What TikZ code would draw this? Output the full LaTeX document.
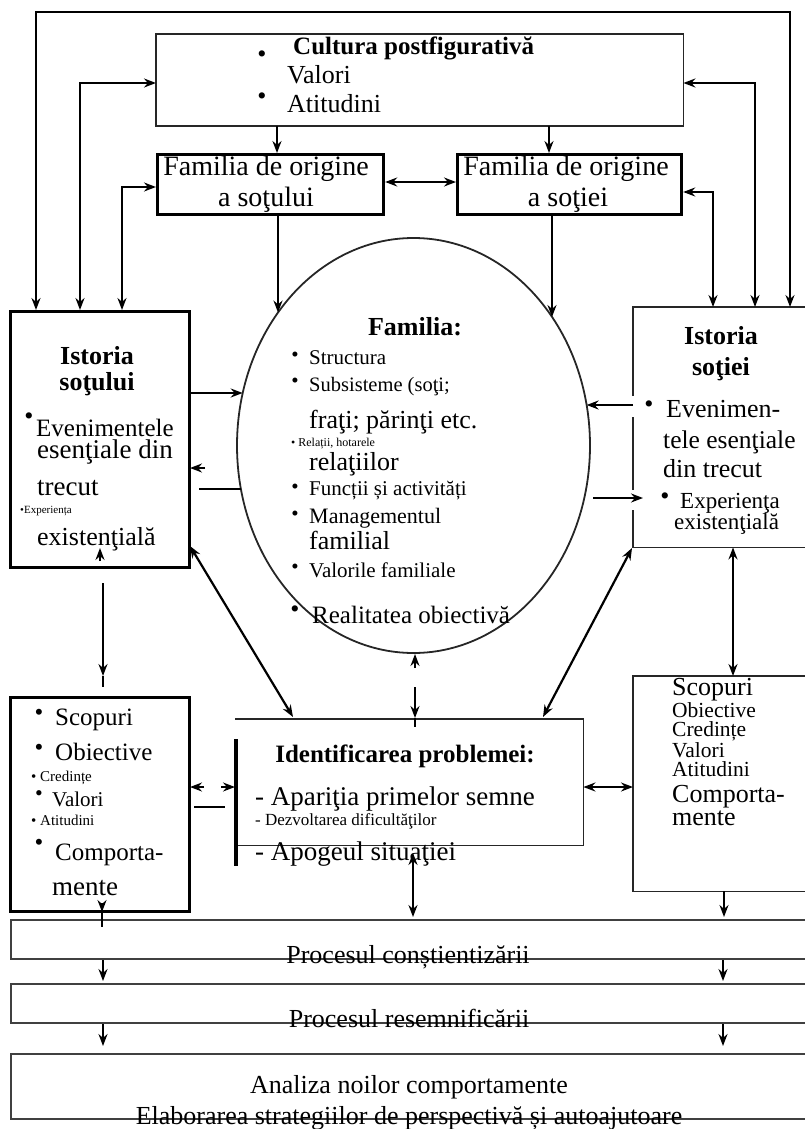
\documentclass[tikz,border=0pt]{standalone}
\usepackage{fontspec}
\setmainfont{Liberation Serif}
\usetikzlibrary{arrows.meta,shapes.geometric}
\newcommand\fsz[1]{\fontsize{#1}{#1}\selectfont}
\begin{document}
\begin{tikzpicture}[x=1pt,y=-1pt,
  >={Stealth[length=12pt,width=9pt,inset=4pt]},
  wire/.style={line width=2.2pt},
  one/.style={wire,->},
  two/.style={wire,<->},
  heavy/.style={draw, line width=3.2pt, inner sep=0, anchor=north west},
  light/.style={draw=black!85, line width=1.8pt},
  band/.style={draw=black!75, line width=2.4pt, inner sep=0, anchor=north west},
  frame/.style={inner sep=0, anchor=north west},
  lbl/.style={inner sep=0, anchor=base west},
  cbl/.style={inner sep=0, anchor=base},
  dot/.style={inner sep=0, anchor=center}]
\useasboundingbox (0,0) rectangle (805,1129);
\clip (0,0) rectangle (805,1129);

% ---------- boxes ----------
\node[frame, minimum width=527pt, minimum height=92pt] (topbox) at (156,34) {};
\draw[light] (topbox.north west) rectangle (topbox.south east);
\node[heavy, minimum width=226pt, minimum height=60pt] (famS) at (156,153) {};
\node[heavy, minimum width=224pt, minimum height=60pt] (famW) at (456,153) {};
\node[heavy, minimum width=179pt, minimum height=256pt] (istS) at (9,310) {};
\node[frame, minimum width=182pt, minimum height=240pt] (istW) at (633,307) {};
\draw[light] (istW.north east) -- (istW.north west) -- (633,396);
\draw[light] (633,417) -- (633,490);
\draw[light] (633,510) -- (istW.south west) -- (istW.south east);
\node[ellipse, draw=black!85, line width=1.8pt, minimum width=353pt, minimum height=415pt, inner sep=0] (fam) at (413.5,445.5) {};
\node[heavy, minimum width=179pt, minimum height=214pt] (scL) at (9,696) {};
\node[frame, minimum width=348pt, minimum height=126pt] (idp) at (235,719) {};
\draw[light] (idp.north west) -- (idp.north east) -- (idp.south east) -- (idp.south west);
\draw[line width=3.2pt] (236,739) -- (236,866);
\node[frame, minimum width=182pt, minimum height=215pt] (scR) at (633,676) {};
\draw[light] (scR.north east) -- (scR.north west) -- (scR.south west) -- (scR.south east);
\node[band, minimum width=810pt, minimum height=39pt] (proc1) at (10,919) {};
\node[band, minimum width=810pt, minimum height=39pt] (proc2) at (10,983) {};
\node[band, minimum width=810pt, minimum height=65pt] (proc3) at (10,1053) {};

% ---------- feedback loops ----------
\coordinate (lA) at (36,12);  \coordinate (rA) at (790,12);
\coordinate (lB) at (80,83);  \coordinate (rB) at (755,83);
\coordinate (lC) at (122,187); \coordinate (rC) at (713,192);
\draw[two] (istS.north -| lA) -- (lA) -- (rA) -- (istW.north -| rA);
\draw[two] (istS.north -| lB) -- (lB) -- (topbox.west |- lB);
\draw[two] (istW.north -| rB) -- (rB) -- (topbox.east |- rB);
\draw[two] (istS.north -| lC) -- (lC) -- (famS.west |- lC);
\draw[two] (istW.north -| rC) -- (rC) -- (famW.east |- rC);

% culture to families of origin
\coordinate (c1) at (277,0); \coordinate (c2) at (549,0); \coordinate (c3) at (0,182);
\draw[one] (topbox.south -| c1) -- (famS.north -| c1);
\draw[one] (topbox.south -| c2) -- (famW.north -| c2);
\draw[two] (famS.east |- c3) -- (famW.west |- c3);

% families of origin to the family
\coordinate (e1) at (278,312.5); \coordinate (e2) at (552,317);
\draw[one] (famS.south -| e1) -- (e1);
\draw[one] (famW.south -| e2) -- (e2);

% histories and the family
\coordinate (e3) at (242.7,393); \coordinate (e4) at (240.9,489); \coordinate (s4) at (199,489);
\draw[one] (istS.east |- e3) -- (e3);
\draw[wire] (e4) -- (s4);
\coordinate (h1a) at (205,468); \coordinate (h1b) at (190,468);
\draw[one] (h1a) -- (h1b);
\coordinate (e5) at (586.6,405);
\draw[one] (istW.west |- e5) -- (e5);
\coordinate (e6a) at (593,498); \coordinate (e6b) at (643,498);
\draw[one] (e6a) -- (e6b);

% family and problem identification
\coordinate (f1) at (415,668); \coordinate (f2) at (415,654);
\draw[one] (f1) -- (f2);
\coordinate (f3) at (415,687); \coordinate (f4) at (415,718); \coordinate (f5) at (415,727);
\draw[one] (f3) -- (f4); \draw[wire] (f4) -- (f5);

% diagonals
\coordinate (d1) at (190,546); \coordinate (d2) at (293,717);
\coordinate (d3) at (632,548); \coordinate (d4) at (543,717);
\draw[two] (d1) -- (d2);
\draw[two] (d3) -- (d4);

% husband: history to goals
\coordinate (g1) at (100,561); \coordinate (g2) at (100,548);
\draw[one] (g1) -- (g2);
\coordinate (g3) at (103,583); \coordinate (g4) at (103,676); \coordinate (g5) at (103,687);
\draw[one] (g3) -- (g4); \draw[wire] (g4) -- (g5);

% goals and problem identification
\coordinate (k1) at (204,787); \coordinate (k2) at (190,787);
\coordinate (k3) at (221,787); \coordinate (k4) at (235,787);
\coordinate (k5) at (194,807); \coordinate (k6) at (225,807);
\draw[one] (k1) -- (k2);
\draw[one] (k3) -- (k4);
\draw[wire] (k5) -- (k6);
\coordinate (c787) at (0,787);
\draw[two] (idp.east |- c787) -- (scR.west |- c787);

% wife: history to goals
\coordinate (c733) at (733,0);
\draw[two] (istW.south -| c733) -- (scR.north -| c733);

% down to the processes
\coordinate (p1) at (413,853); \coordinate (p2) at (413,917);
\draw[two] (p1) -- (p2);
\coordinate (c724) at (724,0); \coordinate (p3) at (724,917);
\draw[one] (scR.south -| c724) -- (p3);
\coordinate (q1) at (102,903); \coordinate (q2) at (102,912); \coordinate (q3) at (102,927);
\draw[one] (q1) -- (q2); \draw[wire] (q2) -- (q3);
\coordinate (cl) at (103,0); \coordinate (cr) at (723,0);
\coordinate (r1) at (103,981); \coordinate (r2) at (723,981);
\coordinate (r3) at (103,1046); \coordinate (r4) at (723,1046);
\draw[one] (proc1.south -| cl) -- (r1);
\draw[one] (proc1.south -| cr) -- (r2);
\draw[one] (proc2.south -| cl) -- (r3);
\draw[one] (proc2.south -| cr) -- (r4);

% ---------- texts ----------
% culture
\node[dot,font=\fsz{26}] (tb1) at (262,57) {•};
\node[lbl,font=\bfseries\fsz{25}] (tc) at (293,55) {Cultura postfigurativă};
\node[lbl,font=\fsz{26}] (tv) at (287,84) {Valori};
\node[dot,font=\fsz{26}] (tb2) at (262,99) {•};
\node[lbl,font=\fsz{26}] (ta) at (287,113) {Atitudini};
% families of origin
\node[cbl,font=\fsz{28}] (fs1) at (266,175) {Familia de origine};
\node[cbl,font=\fsz{28}] (fs2) at (266,206) {a soţului};
\node[cbl,font=\fsz{28}] (fw1) at (566,175) {Familia de origine};
\node[cbl,font=\fsz{28}] (fw2) at (568,206) {a soţiei};
% husband history
\node[cbl,font=\bfseries\fsz{26}] (is1) at (97,364) {Istoria};
\node[cbl,font=\bfseries\fsz{26}] (is2) at (97,390) {soţului};
\node[dot,font=\fsz{26}] (isb1) at (29,419) {•};
\node[lbl,font=\fsz{25}] (is3) at (36,436) {Evenimentele};
\node[lbl,font=\fsz{27}] (is4) at (37,458) {esenţiale din};
\node[lbl,font=\fsz{27}] (is5) at (37,495) {trecut};
\node[lbl,font=\fsz{11}] (is6) at (20,513) {•Experiența};
\node[lbl,font=\fsz{26}] (is7) at (37,545) {existenţială};
% wife history
\node[cbl,font=\bfseries\fsz{26}] (iw1) at (721,344) {Istoria};
\node[cbl,font=\bfseries\fsz{26}] (iw2) at (721,375) {soţiei};
\node[dot,font=\fsz{26}] (iwb1) at (649,407) {•};
\node[lbl,font=\fsz{26}] (iw3) at (666,417) {Evenimen-};
\node[lbl,font=\fsz{25.5}] (iw4) at (663,448) {tele esenţiale};
\node[lbl,font=\fsz{26}] (iw5) at (663,477) {din trecut};
\node[dot,font=\fsz{26}] (iwb2) at (665,499) {•};
\node[lbl,font=\fsz{23}] (iw6) at (680,508) {Experienţa};
\node[lbl,font=\fsz{23}] (iw7) at (674,529) {existenţială};
% family
\node[cbl,font=\bfseries\fsz{26}] (fa0) at (415,335) {Familia:};
\node[dot,font=\fsz{21}] (fab1) at (295,357) {•};
\node[lbl,font=\fsz{21}] (fa1) at (309,364) {Structura};
\node[dot,font=\fsz{21}] (fab2) at (295,383) {•};
\node[lbl,font=\fsz{20.5}] (fa2) at (309,391) {Subsisteme (soţi;};
\node[lbl,font=\fsz{26}] (fa3) at (309,428) {fraţi; părinţi etc.};
\node[lbl,font=\fsz{12}] (fa4) at (291,446) {• Relații, hotarele};
\node[lbl,font=\fsz{26}] (fa5) at (309,470) {relaţiilor};
\node[dot,font=\fsz{21}] (fab3) at (295,489) {•};
\node[lbl,font=\fsz{21}] (fa6) at (309,495) {Funcții și activități};
\node[dot,font=\fsz{21}] (fab4) at (295,516) {•};
\node[lbl,font=\fsz{22}] (fa7) at (309,523) {Managementul};
\node[lbl,font=\fsz{26}] (fa8) at (309,549) {familial};
\node[dot,font=\fsz{21}] (fab5) at (295,569) {•};
\node[lbl,font=\fsz{21}] (fa9) at (309,577) {Valorile familiale};
\node[dot,font=\fsz{26}] (fab6) at (295,612) {•};
\node[lbl,font=\fsz{25}] (fa10) at (312,623) {Realitatea obiectivă};
% husband goals
\node[dot,font=\fsz{25}] (slb1) at (39,715) {•};
\node[lbl,font=\fsz{25}] (sl1) at (55,725) {Scopuri};
\node[dot,font=\fsz{25}] (slb2) at (39,750) {•};
\node[lbl,font=\fsz{25}] (sl2) at (55,760) {Obiective};
\node[lbl,font=\fsz{15}] (sl3) at (31,781) {• Credințe};
\node[dot,font=\fsz{22}] (slb3) at (39,796) {•};
\node[lbl,font=\fsz{21}] (sl4) at (52,806) {Valori};
\node[lbl,font=\fsz{15}] (sl5) at (31,825) {• Atitudini};
\node[dot,font=\fsz{25}] (slb4) at (39,845) {•};
\node[lbl,font=\fsz{25}] (sl6) at (55,860) {Comporta-};
\node[lbl,font=\fsz{27}] (sl7) at (52,895) {mente};
% problem identification
\node[cbl,font=\bfseries\fsz{25}] (id0) at (405,762) {Identificarea problemei:};
\node[lbl,font=\fsz{27}] (id1) at (255,805) {- Apariţia primelor semne};
\node[lbl,font=\fsz{17}] (id2) at (255,825) {- Dezvoltarea dificultăţilor};
\node[lbl,font=\fsz{27}] (id3) at (255,860) {- Apogeul situaţiei};
% wife goals
\node[lbl,font=\fsz{26}] (sr1) at (672,695) {Scopuri};
\node[lbl,font=\fsz{21.5}] (sr2) at (672,717) {Obiective};
\node[lbl,font=\fsz{21.5}] (sr3) at (672,736) {Credințe};
\node[lbl,font=\fsz{21.5}] (sr4) at (672,757) {Valori};
\node[lbl,font=\fsz{21.5}] (sr5) at (672,776) {Atitudini};
\node[lbl,font=\fsz{26}] (sr6) at (672,802) {Comporta-};
\node[lbl,font=\fsz{26}] (sr7) at (672,825) {mente};
% processes
\node[cbl,font=\fsz{26}] (pr1) at (408,963) {Procesul conștientizării};
\node[cbl,font=\fsz{26}] (pr2) at (409,1027) {Procesul resemnificării};
\node[cbl,font=\fsz{26}] (pr3) at (409,1093) {Analiza noilor comportamente};
\node[cbl,font=\fsz{26}] (pr4) at (409,1124) {Elaborarea strategiilor de perspectivă și autoajutoare};
\end{tikzpicture}
\end{document}
